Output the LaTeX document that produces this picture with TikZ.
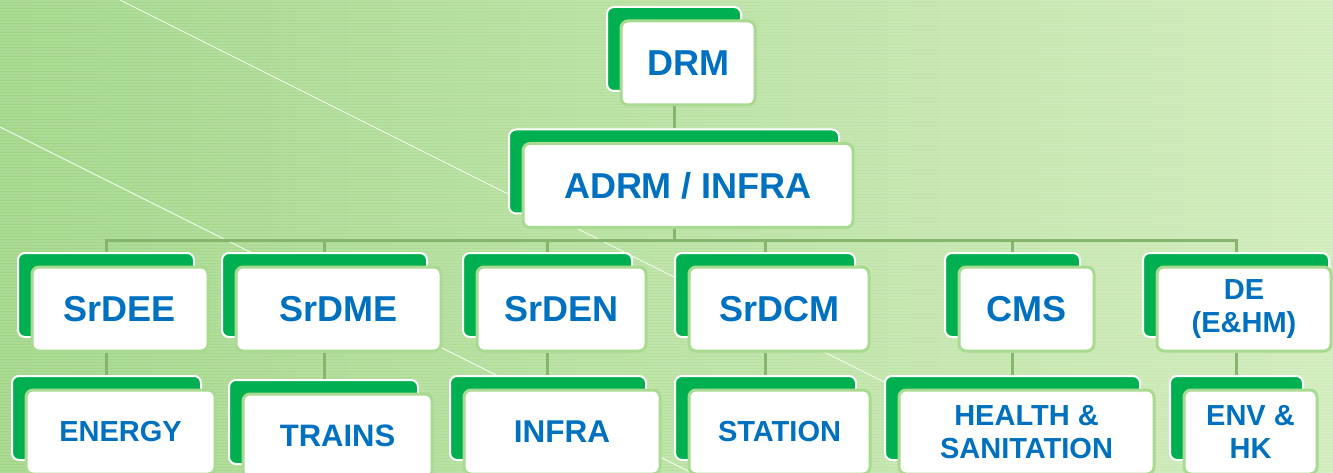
\documentclass[tikz,border=0pt]{standalone}
\usepackage{fontspec}
\setmainfont{Liberation Sans}
\definecolor{bgleft}{HTML}{9FD585}
\definecolor{bgright}{HTML}{CFEBB9}
\definecolor{boxgreen}{HTML}{00B050}
\definecolor{rimgreen}{HTML}{A8DA8F}
\definecolor{linkgreen}{HTML}{86B56E}
\definecolor{textblue}{HTML}{0070C0}
\tikzset{
  backbox/.style={rectangle, rounded corners=7pt, fill=boxgreen, draw=white, line width=2pt, minimum height=84pt, inner sep=0pt},
  frontbox/.style={rectangle, rounded corners=7pt, fill=white, draw=rimgreen, line width=3pt, minimum height=84pt, inner sep=2pt, align=center, text=textblue, font=\bfseries\fontsize{36}{40}\selectfont},
  lowtext/.style={font=\bfseries\fontsize{29}{33}\selectfont},
  link/.style={draw=linkgreen, line width=3pt},
  stripe/.style={white, opacity=.13, line width=1.2pt},
  streak/.style={white, opacity=.8, line width=.9pt}
}
\begin{document}
\begin{tikzpicture}[x=1pt, y=-1pt]
    \useasboundingbox (0,0) rectangle (1333,473);
    \clip (0,0) rectangle (1333,473);
    % background
    \shade[left color=bgleft, right color=bgright] (0,0) rectangle (1333,473);
    \foreach \y in {1,4,...,472} \draw[stripe] (0,\y) -- (1333,\y);
    \draw[streak] (120,0) -- (1066,473);
    \draw[streak] (0,127) -- (692,473);

    % top
    \node[backbox, minimum width=134pt] (drm-back) at (674,49) {};
    \node[frontbox, minimum width=134pt] (drm) at ([shift={(14,14)}]drm-back.center) {DRM};
    \node[backbox, minimum width=330pt] (adrm-back) at (674,171.5) {};
    \node[frontbox, minimum width=330pt] (adrm) at ([shift={(14,14)}]adrm-back.center) {ADRM / INFRA};

    % branch heads
    \node[backbox, minimum width=176pt] (srdee-back) at (106,295) {};
    \node[frontbox, minimum width=176pt] (srdee) at ([shift={(14,14)}]srdee-back.center) {SrDEE};
    \node[backbox, minimum width=205pt] (srdme-back) at (324.5,295) {};
    \node[frontbox, minimum width=205pt] (srdme) at ([shift={(14,14)}]srdme-back.center) {SrDME};
    \node[backbox, minimum width=169pt] (srden-back) at (547.5,295) {};
    \node[frontbox, minimum width=169pt] (srden) at ([shift={(14,14)}]srden-back.center) {SrDEN};
    \node[backbox, minimum width=180pt] (srdcm-back) at (765,295) {};
    \node[frontbox, minimum width=180pt] (srdcm) at ([shift={(14,14)}]srdcm-back.center) {SrDCM};
    \node[backbox, minimum width=135pt] (cms-back) at (1012.5,295) {};
    \node[frontbox, minimum width=135pt] (cms) at ([shift={(14,14)}]cms-back.center) {CMS};
    \node[backbox, minimum width=186pt] (de-back) at (1236,295) {};
    \node[frontbox, lowtext, minimum width=174pt] (de) at ([shift={(8,14)}]de-back.center) {DE\\(E\&HM)};

    % sections
    \node[backbox, minimum width=189pt] (energy-back) at (106.5,418) {};
    \node[frontbox, lowtext, minimum width=189pt] (energy) at ([shift={(14,14)}]energy-back.center) {ENERGY};
    \node[backbox, minimum width=189pt] (trains-back) at (323.5,422) {};
    \node[frontbox, font=\bfseries\fontsize{31}{35}\selectfont, minimum width=189pt] (trains) at ([shift={(14,14)}]trains-back.center) {TRAINS};
    \node[backbox, minimum width=196pt] (infra-back) at (548,418) {};
    \node[frontbox, font=\bfseries\fontsize{31.5}{35}\selectfont, minimum width=196pt] (infra) at ([shift={(14,14)}]infra-back.center) {INFRA};
    \node[backbox, minimum width=181pt] (station-back) at (765.5,418) {};
    \node[frontbox, lowtext, minimum width=181pt] (station) at ([shift={(14,14)}]station-back.center) {STATION};
    \node[backbox, minimum width=255pt] (health-back) at (1012.5,418) {};
    \node[frontbox, lowtext, minimum width=255pt] (health) at ([shift={(14,14)}]health-back.center) {HEALTH \&\\SANITATION};
    \node[backbox, minimum width=133pt] (envhk-back) at (1236.5,418) {};
    \node[frontbox, lowtext, minimum width=133pt] (envhk) at ([shift={(14,14)}]envhk-back.center) {ENV \&\\HK};

    % connectors
    \coordinate (bus) at (674,240);
    \draw[link] (drm-back.center |- drm.south) -- (adrm-back.north);
    \draw[link] (adrm-back.center |- adrm.south) -- (bus);
    \foreach \k in {srdee,srdme,srden,srdcm,cms,de}
        \draw[link] (bus) -| (\k-back.north);
    \foreach \u/\d in {srdee/energy,srdme/trains,srden/infra,srdcm/station,cms/health,de/envhk}
        \draw[link] (\u-back.center |- \u.south) -- (\u-back.center |- \d-back.north);
\end{tikzpicture}
\end{document}
